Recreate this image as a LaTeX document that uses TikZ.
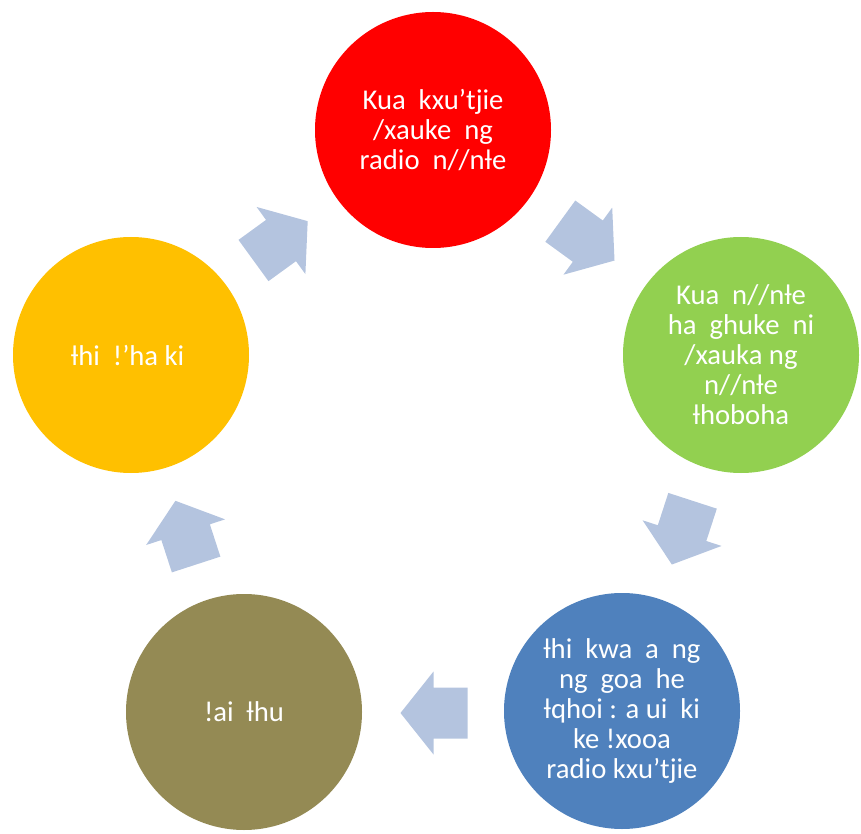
\documentclass[tikz,border=0pt]{standalone}
\usepackage{fontspec}
\setmainfont{Carlito}
\newfontfamily\lbfont[Scale=0.9]{DejaVu Sans}
\usetikzlibrary{calc}
\definecolor{cred}{HTML}{FF0000}
\definecolor{cgreen}{HTML}{92D050}
\definecolor{cblue}{HTML}{4F81BD}
\definecolor{colive}{HTML}{948A54}
\definecolor{cyellow}{HTML}{FFC000}
\definecolor{carrow}{HTML}{B4C4DF}
\newcommand{\lbar}{{\lbfont ƚ}}
\tikzset{
  stage/.style={circle, draw=none, minimum size=177pt, inner sep=0pt, text=white,
    align=center, font=\fontsize{21.5pt}{22.5pt}\selectfont},
  cyclearrow/.style={fill=carrow, draw=none},
}
\newcommand{\cyclearrowat}[2]{% #1 = position angle, #2 = name
  \fill[cyclearrow, shift={({434+261*cos(#1)},{452-261*sin(#1)})}, rotate=#1-90]
    (-33.5,-25.5) -- (0.5,-25.5) -- (0.5,-41.5) -- (33.5,0) -- (0.5,41.5) -- (0.5,25.5) -- (-33.5,25.5) -- cycle;
  \coordinate (#2) at ({434+261*cos(#1)},{452-261*sin(#1)});
}
\begin{document}
\begin{tikzpicture}[x=0.75pt, y=-0.75pt]
\useasboundingbox (0,0) rectangle (861,834);
\node[stage, fill=cred] (red) at (433,130) {Kua~ kxu’tjie\\/xauke~ ng\\radio~ n//n\lbar e};
\node[stage, fill=cgreen] (green) at (741,355) {Kua~ n//n\lbar e\\ha~ ghuke~ ni\\/xauka ng\\n//n\lbar e\\\lbar hoboha};
\node[stage, fill=cblue] (blue) at (622,711) {\lbar hi~ kwa~ a~ ng\\ng~ goa~ he\\\lbar qhoi : a ui~ ki\\ke !xooa\\radio kxu’tjie};
\node[stage, fill=colive] (olive) at (244,712) {!ai~ \lbar hu};
\node[stage, fill=cyellow] (yellow) at (131,355) {\lbar hi~ !’ha ki~};
\cyclearrowat{54}{a1}
\cyclearrowat{-18}{a2}
\cyclearrowat{-90}{a3}
\cyclearrowat{-162}{a4}
\cyclearrowat{126}{a5}
\end{tikzpicture}
\end{document}
